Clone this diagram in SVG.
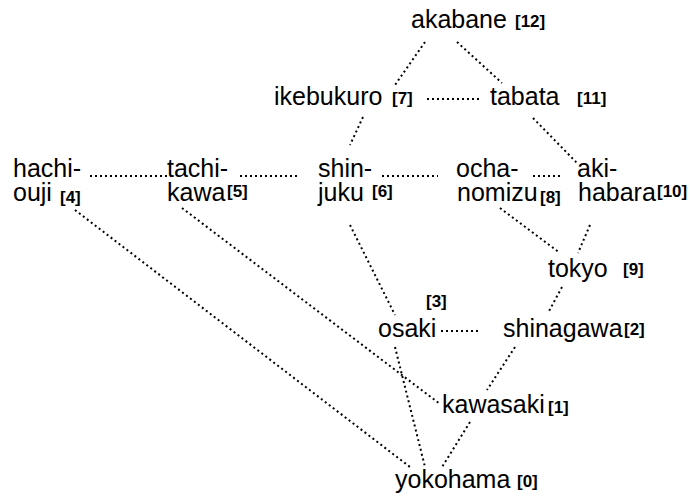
<svg xmlns="http://www.w3.org/2000/svg" width="690" height="497" viewBox="0 0 690 497">
<style>
.n{font-family:"Liberation Sans",Arial,sans-serif;font-size:25px;fill:#000}
.i{font-family:"Liberation Sans",Arial,sans-serif;font-size:17px;font-weight:bold;fill:#000}
.e{stroke:#000;stroke-width:2;stroke-dasharray:2 3;fill:none}
</style>
<rect width="690" height="497" fill="#fff"/>
<g id="edges">
<line class="e" x1="425" y1="42" x2="395" y2="85"/>
<line class="e" x1="457" y1="42" x2="502" y2="83"/>
<line class="e" x1="427" y1="99" x2="482" y2="99"/>
<line class="e" x1="533" y1="118" x2="577" y2="163"/>
<line class="e" x1="363" y1="117" x2="350" y2="145"/>
<line class="e" x1="90" y1="176" x2="167" y2="176"/>
<line class="e" x1="240" y1="176" x2="300" y2="176"/>
<line class="e" x1="382" y1="176" x2="438" y2="176"/>
<line class="e" x1="533" y1="176" x2="563" y2="176"/>
<line class="e" x1="75" y1="210" x2="410" y2="467"/>
<line class="e" x1="182" y1="208" x2="440" y2="404"/>
<line class="e" x1="350" y1="225" x2="395" y2="315"/>
<line class="e" x1="395" y1="347" x2="425" y2="467"/>
<line class="e" x1="470" y1="422" x2="442" y2="467"/>
<line class="e" x1="515" y1="347" x2="487" y2="390"/>
<line class="e" x1="562" y1="287" x2="548" y2="313"/>
<line class="e" x1="500" y1="208" x2="560" y2="253"/>
<line class="e" x1="590" y1="225" x2="578" y2="253"/>
<line class="e" x1="441" y1="331" x2="481" y2="331"/>
</g>
<g id="akabane"><text class="n" x="411" y="28">akabane</text><text class="i" x="515" y="27">[12]</text></g>
<g id="ikebukuro"><text class="n" x="274" y="105">ikebukuro</text><text class="i" x="392" y="104">[7]</text></g>
<g id="tabata"><text class="n" x="490" y="105">tabata</text><text class="i" x="577" y="104">[11]</text></g>
<g id="hachiouji"><text class="n" x="13" y="177">hachi-</text><text class="n" x="13" y="201">ouji</text><text class="i" x="60" y="203">[4]</text></g>
<g id="tachikawa"><text class="n" x="167" y="177">tachi-</text><text class="n" x="167" y="201">kawa</text><text class="i" x="227" y="197">[5]</text></g>
<g id="shinjuku"><text class="n" x="318" y="177">shin-</text><text class="n" x="318" y="201">juku</text><text class="i" x="372" y="197">[6]</text></g>
<g id="ochanomizu"><text class="n" x="456" y="177">ocha-</text><text class="n" x="457" y="201">nomizu</text><text class="i" x="540" y="203">[8]</text></g>
<g id="akihabara"><text class="n" x="577" y="177">aki-</text><text class="n" x="578" y="201">habara</text><text class="i" x="657" y="197">[10]</text></g>
<g id="tokyo"><text class="n" x="548" y="277">tokyo</text><text class="i" x="623" y="275">[9]</text></g>
<g id="osaki"><text class="i" x="426" y="307">[3]</text><text class="n" x="378" y="337">osaki</text></g>
<g id="shinagawa"><text class="n" x="503" y="337">shinagawa</text><text class="i" x="624" y="335">[2]</text></g>
<g id="kawasaki"><text class="n" x="442" y="413">kawasaki</text><text class="i" x="548" y="413">[1]</text></g>
<g id="yokohama"><text class="n" x="395" y="488">yokohama</text><text class="i" x="517" y="487">[0]</text></g>
</svg>
